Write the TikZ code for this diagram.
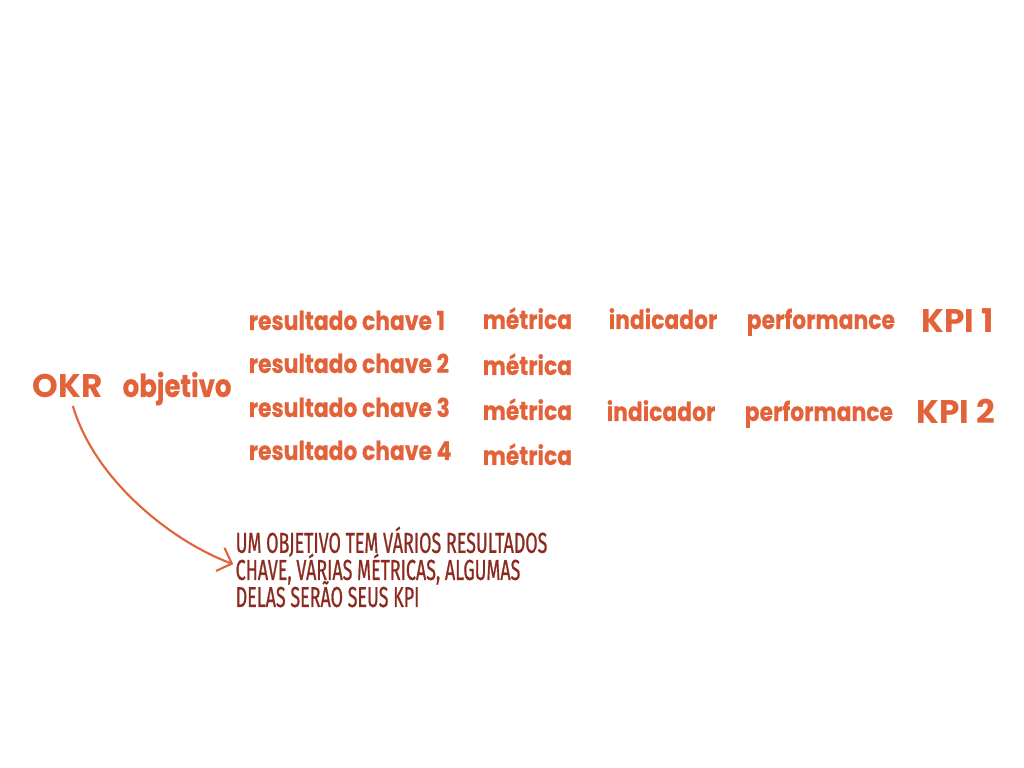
\documentclass[tikz,border=0pt]{standalone}
\usepackage{fontspec}
\setmainfont{Poppins}
\newfontfamily\wordfont[FakeStretch=0.84, FakeBold=0.4]{Poppins}
\newfontfamily\objfont[FakeStretch=0.82, FakeBold=0.4]{Poppins}
\newfontfamily\notefont[FakeStretch=0.62, FakeBold=0.7]{Fira Sans}
\newcommand\notelines{\lineskiplimit=-20pt\relax}
\usetikzlibrary{arrows.meta, positioning}
\definecolor{okrorange}{HTML}{E2633A}
\definecolor{notered}{HTML}{8B2A1F}

\begin{document}
\begin{tikzpicture}[
    x=0.01cm, y=-0.01cm,
    word/.style={text=okrorange, font=\wordfont\bfseries\fontsize{7.4}{9}\selectfont, inner sep=0pt, anchor=base west},
    big/.style={word, font=\bfseries\fontsize{9.3}{10}\selectfont},
    note/.style={text=notered, font=\notefont\fontsize{8.2}{7.7}\selectfont\notelines, align=left, inner sep=0pt, anchor=base west},
    arrow/.style={-{Straight Barb[length=3.5pt]}, semithick, draw=okrorange}
]
\useasboundingbox (0,0) rectangle (1024,768);
\node[big] (okr) at (32,398) {OKR};
\node[word, font=\objfont\bfseries\fontsize{9}{10}\selectfont] (obj) at (122,397) {objetivo};

\node[word] (rc1) at (248,330) {resultado chave 1};
\node[word] (rc2) at (248,373) {resultado chave 2};
\node[word] (rc3) at (248,417) {resultado chave 3};
\node[word] (rc4) at (248,460) {resultado chave 4};

\node[word] (met1) at (482,329) {métrica};
\node[word] (met2) at (482,375) {métrica};
\node[word] (met3) at (482,420) {métrica};
\node[word] (met4) at (482,465) {métrica};

\node[word] (ind1) at (608,329) {indicador};
\node[word] (ind3) at (606,421) {indicador};
\node[word] (perf1) at (746,329) {performance};
\node[word] (perf3) at (744,421) {performance};

\node[big] (kpi1) at (921,333) {KPI 1};
\node[big] (kpi2) at (916,424) {KPI 2};

\node[note] (note) at (235,607) {UM OBJETIVO TEM VÁRIOS RESULTADOS\\CHAVE, VÁRIAS MÉTRICAS, ALGUMAS\\DELAS SERÃO SEUS KPI};

\draw[arrow] ([xshift=1.5pt,yshift=-2pt]okr.south) .. controls +(22,75) and +(-60,-22) .. ([xshift=-0.5pt,yshift=0.8pt]note.west);
\end{tikzpicture}
\end{document}
